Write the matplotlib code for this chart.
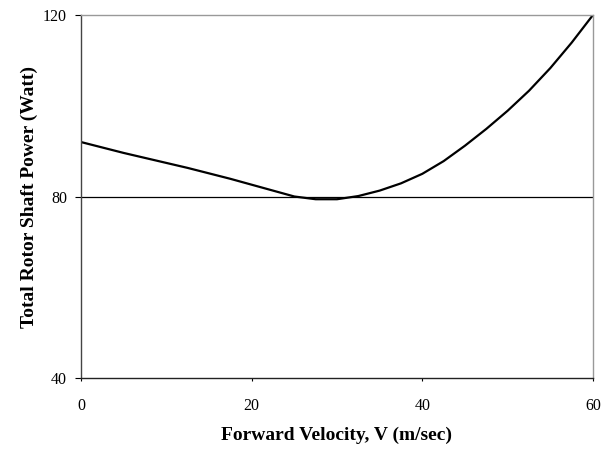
from matplotlib import pyplot as plt

# rotor shaft power against forward flight speed
velocity = [0, 2.5, 5, 7.5, 10, 12.5, 15, 17.5, 20, 22.5, 25, 27.5, 30,
            32.5, 35, 37.5, 40, 42.5, 45, 47.5, 50, 52.5, 55, 57.5, 60]
power = [92.0, 90.8, 89.6, 88.5, 87.4, 86.3, 85.1, 83.9, 82.6, 81.3, 80.0, 79.4, 79.4,
         80.1, 81.3, 82.9, 85.0, 87.8, 91.2, 94.9, 98.9, 103.3, 108.3, 113.9, 120.0]

x_ticks = [0, 20, 40, 60]
y_ticks = [40, 80, 120]

plt.rcParams['font.family'] = ['Liberation Serif', 'DejaVu Serif']

fig = plt.figure(figsize=(6.06, 4.49), dpi=100)
ax = fig.add_axes([0.1337, 0.1581, 0.8448, 0.8085])

ax.axhline(80, color="black", linewidth=0.9, zorder=1)
ax.plot(velocity, power, color="black", linewidth=1.6, zorder=2,
        solid_joinstyle="round")

ax.set_xlim(0, 60)
ax.set_ylim(40, 120)
ax.set_xticks(x_ticks)
ax.set_yticks(y_ticks)

ax.tick_params(axis="y", direction="out", length=4, width=0.8, pad=6, labelsize=11.5)
ax.tick_params(axis="x", direction="out", length=2.5, width=0.8, pad=12, labelsize=11.5)

ax.spines["left"].set_color("#444444")
ax.spines["bottom"].set_color("#222222")
ax.spines["top"].set_color("#999999")
ax.spines["right"].set_color("#999999")
for s in ax.spines.values():
    s.set_linewidth(1.0)

ax.set_xlabel("Forward Velocity, V (m/sec)", fontsize=14, fontweight="bold", labelpad=9)
ax.set_ylabel("Total Rotor Shaft Power (Watt)", fontsize=14, fontweight="bold", labelpad=4)

fig.savefig("out.png", dpi=100)
